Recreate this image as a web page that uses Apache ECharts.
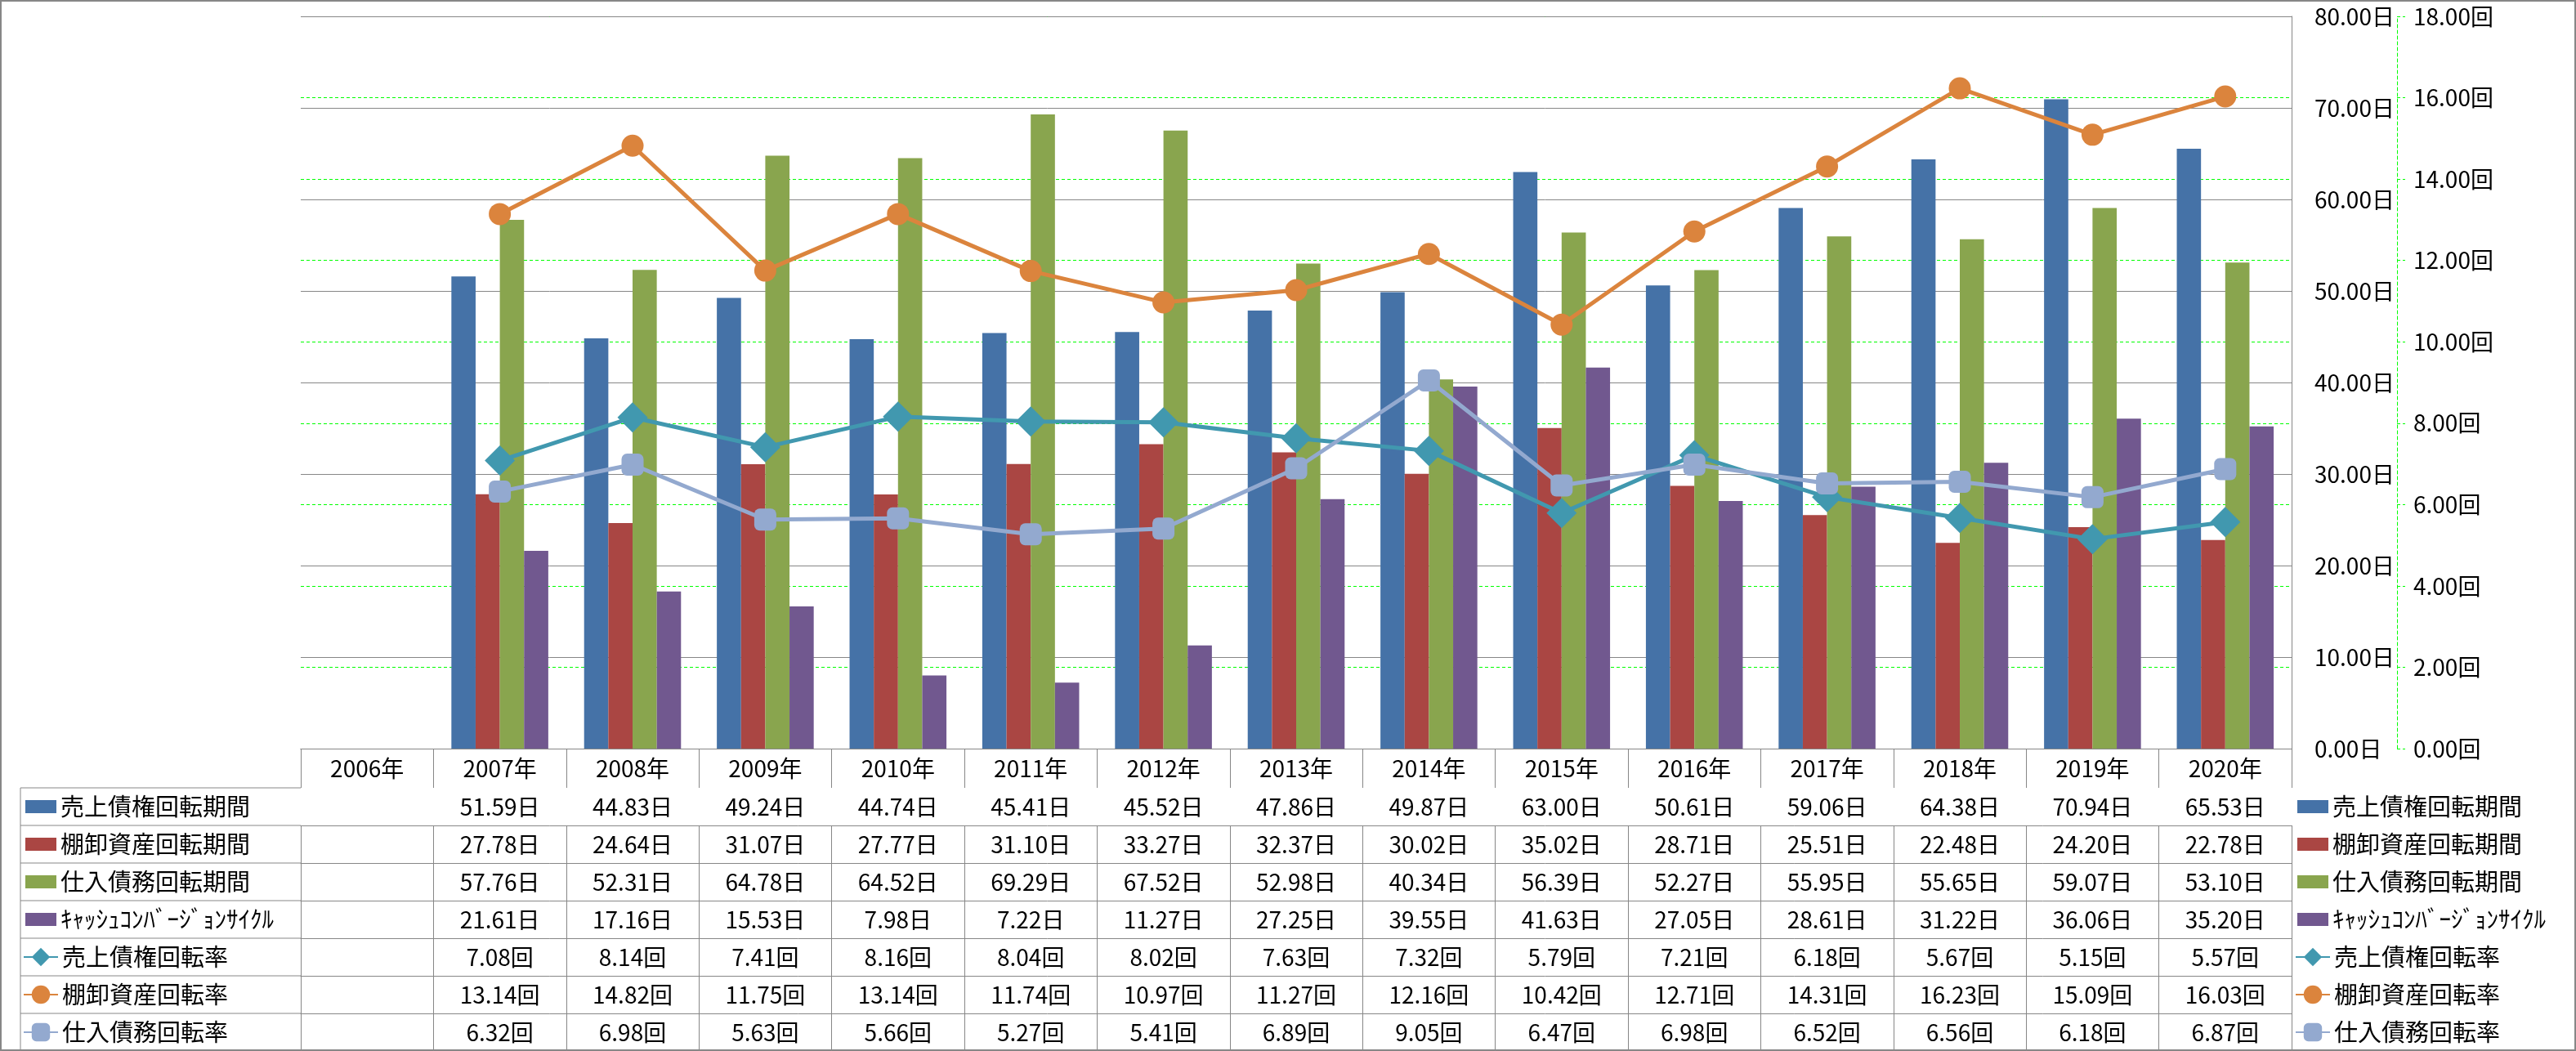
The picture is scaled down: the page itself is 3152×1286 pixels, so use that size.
<!DOCTYPE html>
<html>
<head>
<meta charset="utf-8">
<script src="https://cdn.jsdelivr.net/npm/echarts@6/dist/echarts.min.js"></script>
<style>
html,body{margin:0;padding:0;background:#fff;}
#c{width:3152px;height:1286px;}
</style>
</head>
<body>
<div id="c"></div>
<script>
// ---- data ----
const years = ['2006年','2007年','2008年','2009年','2010年','2011年','2012年','2013年','2014年','2015年','2016年','2017年','2018年','2019年','2020年'];
const seriesNames = ['売上債権回転期間','棚卸資産回転期間','仕入債務回転期間','ｷｬｯｼｭｺﾝﾊﾞｰｼﾞｮﾝｻｲｸﾙ','売上債権回転率','棚卸資産回転率','仕入債務回転率'];
const arDays   = [null,51.59,44.83,49.24,44.74,45.41,45.52,47.86,49.87,63.00,50.61,59.06,64.38,70.94,65.53];
const invDays  = [null,27.78,24.64,31.07,27.77,31.10,33.27,32.37,30.02,35.02,28.71,25.51,22.48,24.20,22.78];
const apDays   = [null,57.76,52.31,64.78,64.52,69.29,67.52,52.98,40.34,56.39,52.27,55.95,55.65,59.07,53.10];
const cccDays  = [null,21.61,17.16,15.53,7.98,7.22,11.27,27.25,39.55,41.63,27.05,28.61,31.22,36.06,35.20];
const arTurn   = [null,7.08,8.14,7.41,8.16,8.04,8.02,7.63,7.32,5.79,7.21,6.18,5.67,5.15,5.57];
const invTurn  = [null,13.14,14.82,11.75,13.14,11.74,10.97,11.27,12.16,10.42,12.71,14.31,16.23,15.09,16.03];
const apTurn   = [null,6.32,6.98,5.63,5.66,5.27,5.41,6.89,9.05,6.47,6.98,6.52,6.56,6.18,6.87];
const dayTicks = {min:0, max:80, interval:10, unit:'日'};
const rateTicks = {min:0, max:18, interval:2, unit:'回'};

// ---- styles / layout ----
const FONT = "'Noto Sans CJK JP', sans-serif";
const colors = ['#4572A7','#AA4643','#89A54E','#71588F','#4198AF','#DB843D','#93A9CF'];
const symbols = ['diamond','circle','roundRect'];
const symbolSizes = [37,27,27];
const GRAY = '#878787';
const GREEN = '#00FF00';
const W = 3152, H = 1286;
const GRID_L = 368, GRID_R = 2804, GRID_T = 20, GRID_B = 916;
const HEAD_H = 48, ROW_H = 46;
const LEFT_COL_X = 25;
const FS = 28;

const dayRows = [arDays, invDays, apDays, cccDays];
const rateRows = [arTurn, invTurn, apTurn];
const tableRows = dayRows.map(a => ({arr:a, unit:dayTicks.unit})).concat(rateRows.map(a => ({arr:a, unit:rateTicks.unit})));

const fmt = (v, u) => (v === null || v === undefined) ? '' : v.toFixed(2) + u;

const xAxes = [{
  type:'category', data: years, gridIndex:0, position:'bottom',
  axisLine:{show:true, lineStyle:{color:GRAY, width:1}},
  axisTick:{show:true, interval:0, length:HEAD_H, lineStyle:{color:GRAY, width:1}},
  axisLabel:{interval:0, margin:0, lineHeight:HEAD_H, fontSize:FS, color:'#000', fontFamily:FONT},
  splitLine:{show:false}
}];
tableRows.forEach((r, k) => {
  xAxes.push({
    type:'category', data: years, gridIndex:0, position:'bottom', offset: HEAD_H + ROW_H*k,
    axisLine:{show:true, lineStyle:{color:GRAY, width:1}},
    axisTick:{show:true, interval:0, length:ROW_H, lineStyle:{color:GRAY, width:1}},
    axisLabel:{interval:0, margin:0, lineHeight:ROW_H, fontSize:FS, color:'#000', fontFamily:FONT,
      formatter:(v, i) => fmt(r.arr[i], r.unit)},
    splitLine:{show:false}
  });
});

const series = [];
dayRows.forEach((arr, i) => series.push({
  name: seriesNames[i], type:'bar', xAxisIndex:0, yAxisIndex:0, data: arr,
  barGap:'0%', barCategoryGap:'27%', itemStyle:{color:colors[i]}
}));
rateRows.forEach((arr, j) => series.push({
  name: seriesNames[4+j], type:'line', xAxisIndex:0, yAxisIndex:1, data: arr,
  symbol: symbols[j], symbolSize: symbolSizes[j], showAllSymbol:true,
  lineStyle:{color:colors[4+j], width:5}, itemStyle:{color:colors[4+j]},
  z: 3 + j
}));

const tableBottom = GRID_B + HEAD_H + ROW_H*7;
const graphics = [];
for (let k = 0; k <= 7; k++) {
  const y = GRID_B + HEAD_H + ROW_H*k;
  graphics.push({type:'line', shape:{x1:LEFT_COL_X, y1:y, x2:GRID_L, y2:y}, style:{stroke:GRAY, lineWidth:1}, silent:true});
}
graphics.push({type:'line', shape:{x1:LEFT_COL_X, y1:GRID_B+HEAD_H, x2:LEFT_COL_X, y2:tableBottom}, style:{stroke:GRAY, lineWidth:1}, silent:true});
graphics.push({type:'rect', shape:{x:1, y:1, width:W-2, height:H-2}, style:{fill:'none', stroke:GRAY, lineWidth:2}, silent:true, z:100});

const legendText = {fontSize:29, lineHeight:ROW_H, color:'#000', fontFamily:FONT};
const barNames = seriesNames.slice(0,4).map(n => ({name:n, icon:'rect'}));
const lineNames = seriesNames.slice(4);
const legendBase = {orient:'vertical', itemGap:0, padding:0, textStyle:legendText, selectedMode:false, height:ROW_H*4 + 10};
const legends = [
  Object.assign({}, legendBase, {left:31, top:GRID_B+HEAD_H, itemWidth:38, itemHeight:16, data:barNames}),
  Object.assign({}, legendBase, {left:28, top:GRID_B+HEAD_H+ROW_H*4, itemWidth:42, itemHeight:28, data:lineNames}),
  Object.assign({}, legendBase, {left:GRID_R+7, top:GRID_B+HEAD_H, itemWidth:38, itemHeight:16, data:barNames}),
  Object.assign({}, legendBase, {left:GRID_R+4, top:GRID_B+HEAD_H+ROW_H*4, itemWidth:42, itemHeight:28, data:lineNames})
];

const option = {
  backgroundColor:'#fff',
  animation:false,
  textStyle:{fontFamily:FONT},
  grid:{left:GRID_L, right:W-GRID_R, top:GRID_T, bottom:H-GRID_B, containLabel:false},
  legend: legends,
  xAxis: xAxes,
  yAxis: [
    {type:'value', position:'right', min:dayTicks.min, max:dayTicks.max, interval:dayTicks.interval, z:1,
     axisLine:{show:true, lineStyle:{color:GRAY, width:1}}, axisTick:{show:false},
     axisLabel:{margin:28, fontSize:FS, color:'#000', fontFamily:FONT, formatter:v => v.toFixed(2)+dayTicks.unit},
     splitLine:{show:true, lineStyle:{color:GRAY, width:1}}},
    {type:'value', position:'right', offset:129, min:rateTicks.min, max:rateTicks.max, interval:rateTicks.interval, z:0,
     axisLine:{show:true, lineStyle:{color:GREEN, width:1, type:[4,3]}},
     axisTick:{show:true, length:10, lineStyle:{color:GREEN, width:1, type:[4,3]}},
     axisLabel:{margin:20, fontSize:FS, color:'#000', fontFamily:FONT, formatter:v => v.toFixed(2)+rateTicks.unit},
     splitLine:{show:true, lineStyle:{color:GREEN, width:1, type:[4,3]}}}
  ],
  graphic: graphics,
  series: series
};
const chart = echarts.init(document.getElementById('c'));
chart.setOption(option);
</script>
</body>
</html>
